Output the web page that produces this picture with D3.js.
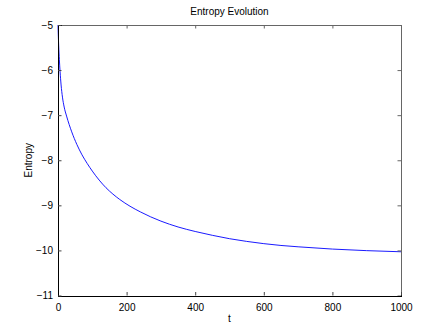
<!DOCTYPE html>
<html lang="en">
<head>
<meta charset="UTF-8">
<title>Entropy Evolution</title>
<script src="https://d3js.org/d3.v7.min.js"></script>
<style>
    body { margin: 0; background: #fff; }
    svg { display: block; font-family: "Liberation Sans", Arial, sans-serif; }
    .tick text { font-size: 10px; fill: #000; }
</style>
</head>
<body>
<svg width="443" height="333"></svg>
<script>
// data
const tValues = [0, 1, 2, 4, 6, 9, 13, 18, 25, 40, 55, 70, 85, 100, 120, 140, 160, 180, 210, 240, 270, 300, 350, 400, 450, 500, 550, 600, 650, 700, 800, 900, 1000];
const entropy = [-5.0, -5.25, -5.45, -5.77, -6.03, -6.33, -6.6, -6.82, -7.02, -7.37, -7.65, -7.88, -8.07, -8.24, -8.44, -8.61, -8.75, -8.87, -9.02, -9.145, -9.255, -9.35, -9.48, -9.58, -9.665, -9.74, -9.8, -9.85, -9.89, -9.92, -9.97, -10.005, -10.03];
const xTicks = [0, 200, 400, 600, 800, 1000];
const yTicks = [-11, -10, -9, -8, -7, -6, -5];

const svg = d3.select("svg");
const margin = { top: 25, right: 42, bottom: 37.5, left: 58 };
const width = 443 - margin.left - margin.right;
const height = 333 - margin.top - margin.bottom;

const x = d3.scaleLinear().domain([0, 1000]).range([0, width]);
const y = d3.scaleLinear().domain([-11, -5]).range([height, 0]);
const fmt = d => d < 0 ? "\u2212" + Math.abs(d) : String(d);

const g = svg.append("g").attr("transform", `translate(${margin.left},${margin.top})`);

// curve
const pts = tValues.map((t, i) => [t, entropy[i]]);
g.append("path")
 .datum(pts)
 .attr("fill", "none")
 .attr("stroke", "#0000ff")
 .attr("stroke-width", 0.9)
 .attr("d", d3.line().x(d => x(d[0])).y(d => y(d[1])).curve(d3.curveMonotoneX));

// box: top / right (ticks pointing inward)
g.append("g")
 .call(d3.axisTop(x).tickValues(xTicks).tickSize(-3.5).tickFormat(""))
 .call(a => a.selectAll("path, line").attr("stroke", "#666"));
g.append("g")
 .attr("transform", `translate(${width},0)`)
 .call(d3.axisRight(y).tickValues(yTicks).tickSize(-3.5).tickFormat(""))
 .call(a => a.selectAll("path, line").attr("stroke", "#666"));

// bottom / left
g.append("g")
 .attr("transform", `translate(0,${height})`)
 .call(d3.axisBottom(x).tickValues(xTicks).tickSize(-3.5).tickPadding(8).tickFormat(fmt))
 .call(a => a.select(".domain").attr("stroke", "#000"))
 .call(a => a.selectAll(".tick line").attr("stroke", "#444"));
g.append("g")
 .call(d3.axisLeft(y).tickValues(yTicks).tickSize(-3.5).tickPadding(5).tickFormat(fmt))
 .call(a => a.select(".domain").attr("stroke", "#000"))
 .call(a => a.selectAll(".tick line").attr("stroke", "#444"));

svg.selectAll(".domain").attr("shape-rendering", "crispEdges");

// labels
svg.append("text")
   .attr("x", margin.left + width / 2)
   .attr("y", 15)
   .attr("text-anchor", "middle")
   .style("font-size", "10px")
   .text("Entropy Evolution");

svg.append("text")
   .attr("x", margin.left + width / 2)
   .attr("y", 322)
   .attr("text-anchor", "middle")
   .style("font-size", "10px")
   .text("t");

svg.append("text")
   .attr("transform", `translate(32,${margin.top + height / 2}) rotate(-90)`)
   .attr("text-anchor", "middle")
   .style("font-size", "10px")
   .text("Entropy");
</script>
</body>
</html>
